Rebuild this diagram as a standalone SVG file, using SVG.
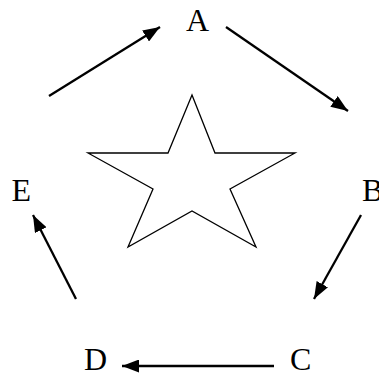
<svg xmlns="http://www.w3.org/2000/svg" width="379" height="373" viewBox="0 0 379 373">
<defs>
<marker id="ah" markerUnits="userSpaceOnUse" markerWidth="17" markerHeight="13" refX="17" refY="6.5" orient="auto">
<path d="M0,0 L17,6.5 L0,13 z" fill="#000"/>
</marker>
<style>
.lbl{font-family:"Liberation Serif","Times New Roman",serif;font-size:32px;fill:#000}
.arr{stroke:#000;stroke-width:2.3;fill:none;marker-end:url(#ah)}
</style>
</defs>
<rect width="379" height="373" fill="#fff"/>
<g id="star"><polygon points="192,95 168,153 88,153 153,189 128,247 192,211 256,247 230,189 295,153 215,153" fill="#fff" stroke="#000" stroke-width="1.3"/></g>
<g id="A"><text class="lbl" x="186" y="31">A</text></g>
<g id="B"><text class="lbl" x="362" y="201">B</text></g>
<g id="C"><text class="lbl" x="290" y="370">C</text></g>
<g id="D"><text class="lbl" x="84" y="370">D</text></g>
<g id="E"><text class="lbl" x="11.5" y="200.5">E</text></g>
<g id="connectors">
<line class="arr" x1="49" y1="96" x2="160" y2="27"/>
<line class="arr" x1="226" y1="27" x2="348" y2="111"/>
<line class="arr" x1="361" y1="215" x2="314" y2="299"/>
<line class="arr" x1="274" y1="366" x2="122" y2="366"/>
<line class="arr" x1="76" y1="299" x2="33" y2="215"/>
</g>
</svg>
